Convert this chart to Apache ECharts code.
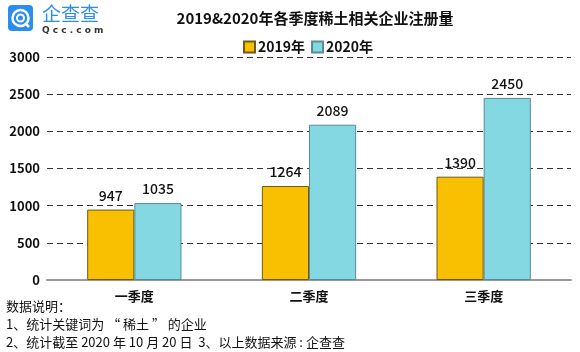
<!DOCTYPE html>
<html><head><meta charset="utf-8">
<script src="https://cdn.jsdelivr.net/npm/echarts@6/dist/echarts.min.js"></script>
<style>html,body{margin:0;padding:0;background:#fff}#c{width:580px;height:352px}</style>
</head><body><div id="c"></div>
<script>
var categories = ['一季度','二季度','三季度'];
var s2019 = [947, 1264, 1390];
var s2020 = [1035, 2089, 2450];
var yTicks = [0, 500, 1000, 1500, 2000, 2500, 3000];
var notes = ['数据说明：', '1、统计关键词为 “ 稀土 ” 的企业', '2、统计截至 2020 年 10 月 20 日  3、以上数据来源 : 企查查'];
var F = '"Microsoft YaHei","Noto Sans CJK SC",sans-serif';
var chart = echarts.init(document.getElementById('c'));
chart.setOption({
  animation:false,
  title:{text:'2019&2020年各季度稀土相关企业注册量',left:310,top:6,textAlign:'center',
    textStyle:{fontFamily:F,fontSize:15,fontWeight:'bold',color:'#111'}},
  legend:{data:[{name:'2019年',icon:'rect'},{name:'2020年',icon:'rect'}],left:238,top:35,itemWidth:11,itemHeight:11,itemGap:6,
    textStyle:{fontFamily:F,fontSize:14,fontWeight:'bold',color:'#111',padding:[0,0,0,-2]}},
  grid:{left:47,right:9,top:57,bottom:72},
  xAxis:{type:'category',data:categories,axisTick:{show:false},
    axisLine:{lineStyle:{color:'#999',width:2}},
    axisLabel:{fontFamily:F,fontSize:13,fontWeight:'bold',color:'#111',margin:10}},
  yAxis:{type:'value',min:0,max:3000,interval:500,
    axisLine:{show:false},axisTick:{show:false},
    axisLabel:{fontFamily:F,fontSize:13,fontWeight:'bold',color:'#111',margin:7,
      formatter:function(v){return yTicks.indexOf(v)>=0?String(v):'';}},
    splitLine:{lineStyle:{type:[6,4],color:'#333',width:1}}},
  series:[
    {name:'2019年',type:'bar',data:s2019,barWidth:'27%',barGap:'0%',
     itemStyle:{color:'#F9C002',borderColor:'#6b5a1a',borderWidth:1},
     label:{show:true,position:'top',fontFamily:F,fontSize:14,fontWeight:500,color:'#111',distance:7}},
    {name:'2020年',type:'bar',data:s2020,barWidth:'27%',
     itemStyle:{color:'#84D8E2',borderColor:'#5a8a96',borderWidth:1},
     label:{show:true,position:'top',fontFamily:F,fontSize:14,fontWeight:500,color:'#111',distance:7}}
  ],
  graphic:[
    {type:'rect',shape:{x:8,y:5,width:25,height:26,r:4},style:{fill:'#2c8df0'}},
    {type:'circle',shape:{cx:20.5,cy:18,r:8},style:{fill:'none',stroke:'#fff',lineWidth:2.5}},
    {type:'circle',shape:{cx:20.5,cy:18,r:3.5},style:{fill:'none',stroke:'#fff',lineWidth:2}},
    {type:'line',shape:{x1:25,y1:23,x2:29,y2:27},style:{stroke:'#fff',lineWidth:2.5}},
    {type:'text',x:42,y:4,style:{text:'企查查',font:'19px '+F,fill:'#2c8df0'}},
    {type:'text',x:42,y:26,style:{text:'Q c c . c o m',font:'bold 9px "DejaVu Sans",sans-serif',fill:'#333'}},
    {type:'text',left:6,top:300,style:{text:notes[0],font:'13px '+F,fill:'#111'}},
    {type:'text',left:6,top:318,style:{text:notes[1],font:'13px '+F,fill:'#111'}},
    {type:'text',left:6,top:336,style:{text:notes[2],font:'13px '+F,fill:'#111'}}
  ]
});
</script></body></html>
